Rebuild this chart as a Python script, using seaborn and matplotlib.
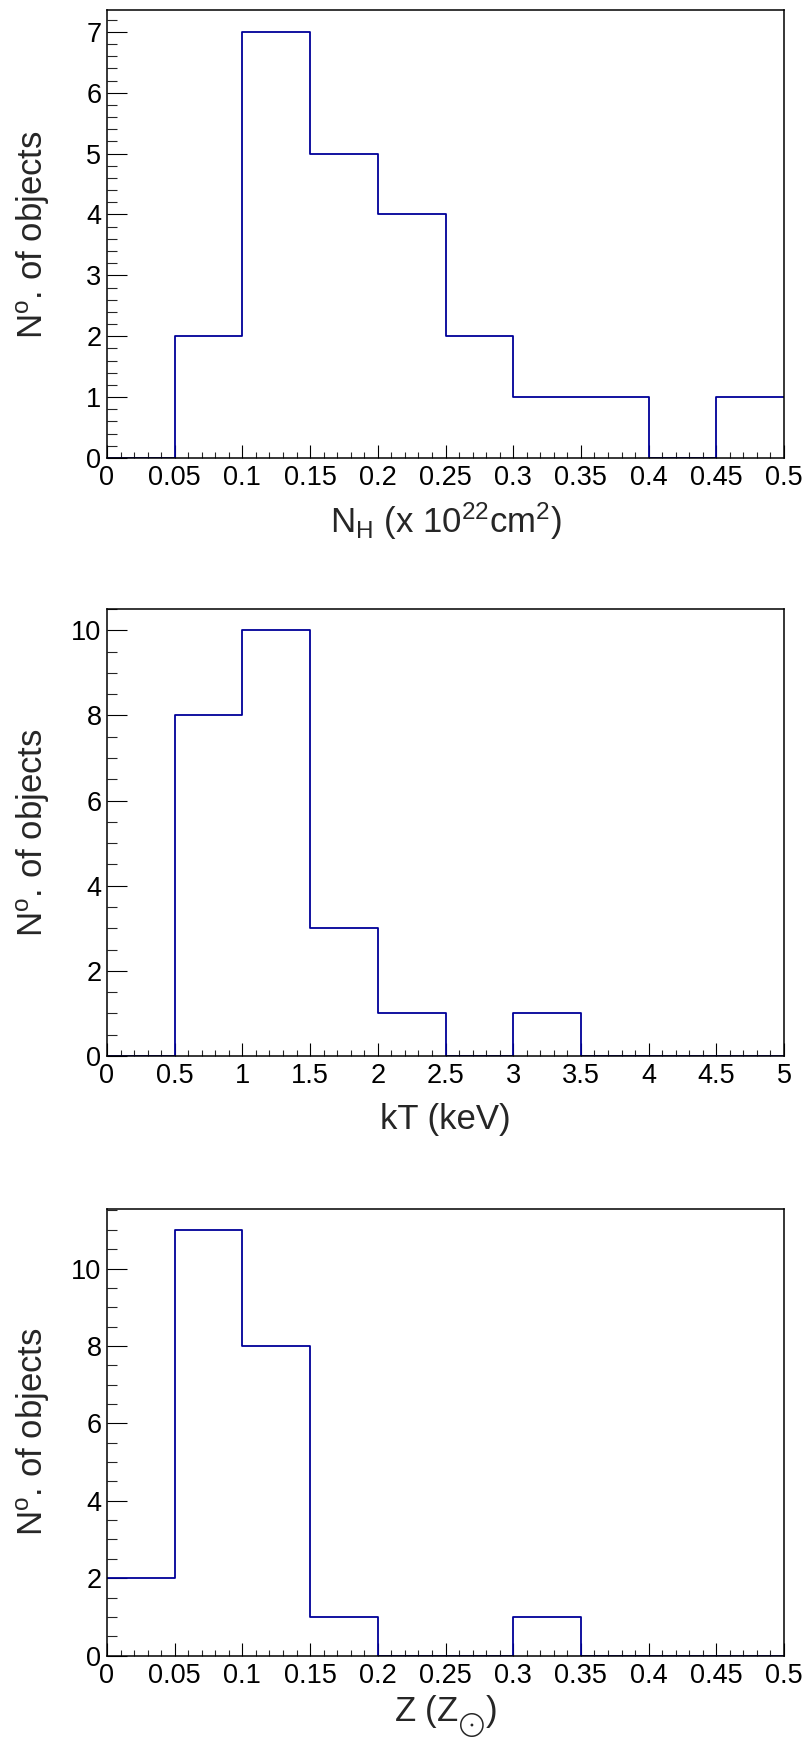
import numpy as np
import pandas as pd
import matplotlib
matplotlib.use("Agg")
import matplotlib.pyplot as plt
from matplotlib.ticker import MultipleLocator, FuncFormatter
import seaborn as sns

# ---------------- data ----------------
nh_edges = [0.0, 0.05, 0.10, 0.15, 0.20, 0.25, 0.30, 0.35, 0.40, 0.45, 0.50]
nh_counts = [0, 2, 7, 5, 4, 2, 1, 1, 0, 1]

kt_edges = [0.0, 0.5, 1.0, 1.5, 2.0, 2.5, 3.0, 3.5, 4.0, 4.5, 5.0]
kt_counts = [0, 8, 10, 3, 1, 0, 1, 0, 0, 0]

z_edges = [0.0, 0.05, 0.10, 0.15, 0.20, 0.25, 0.30, 0.35, 0.40, 0.45, 0.50]
z_counts = [2, 11, 8, 1, 0, 0, 1, 0, 0, 0]

xlabels = [r"N$_{\mathrm{H}}$ (x 10$^{22}$cm$^{2}$)", "kT (keV)", r"Z (Z$_{_{\bigodot}}$)"]
ylabel = r"N$^{\mathrm{o}}$. of objects"

# ---------------- style ----------------
sns.set_style("white")
plt.rcParams["font.family"] = ["Liberation Sans", "DejaVu Sans"]
plt.rcParams["mathtext.fontset"] = "custom"
plt.rcParams["mathtext.rm"] = "Liberation Sans"
plt.rcParams["mathtext.it"] = "Liberation Sans:italic"
plt.rcParams["mathtext.bf"] = "Liberation Sans:bold"

W, H = 809, 1742
fig = plt.figure(figsize=(W / 100, H / 100), dpi=100)
fig.patch.set_facecolor("white")

# axes boxes in pixels (left, top, right, bottom)
boxes = [(107, 10.5, 784, 458), (107, 609, 784, 1056), (107, 1208.5, 784, 1655.6)]

panels = [
    dict(edges=nh_edges, counts=nh_counts, ymax=7.35, ymaj=1, ymin=0.2,
         xmaj=0.05, xmin=0.01, xlab=xlabels[0], xlab_off=75),
    dict(edges=kt_edges, counts=kt_counts, ymax=10.5, ymaj=2, ymin=0.5,
         xmaj=0.5, xmin=0.1, xlab=xlabels[1], xlab_off=73),
    dict(edges=z_edges, counts=z_counts, ymax=11.55, ymaj=2, ymin=0.5,
         xmaj=0.05, xmin=0.01, xlab=xlabels[2], xlab_off=66),
]

line_color = "#000099"

for (l, t, r, b), p in zip(boxes, panels):
    ax = fig.add_axes([l / W, 1 - b / H, (r - l) / W, (b - t) / H])
    edges = [float(e) for e in p["edges"]]
    centers = [(edges[i] + edges[i + 1]) / 2 for i in range(len(edges) - 1)]
    df = pd.DataFrame({"value": centers, "count": p["counts"]})
    sns.histplot(data=df, x="value", weights="count", bins=edges, element="step",
                 fill=False, color=line_color, linewidth=1.3, ax=ax)
    ax.set_xlim(edges[0], edges[-1])
    ax.set_ylim(0, p["ymax"])

    for s in ax.spines.values():
        s.set_visible(True)
        s.set_color("black")
        s.set_linewidth(1.1)

    ax.xaxis.set_major_locator(MultipleLocator(p["xmaj"]))
    ax.xaxis.set_minor_locator(MultipleLocator(p["xmin"]))
    ax.yaxis.set_major_locator(MultipleLocator(p["ymaj"]))
    ax.yaxis.set_minor_locator(MultipleLocator(p["ymin"]))
    ax.xaxis.set_major_formatter(FuncFormatter(lambda v, pos: "%g" % round(v, 4)))
    ax.yaxis.set_major_formatter(FuncFormatter(lambda v, pos: "%g" % round(v, 4)))

    ax.tick_params(axis="x", which="major", direction="in", length=9.4, width=0.8,
                   labelsize=19.5, pad=5, top=False, bottom=True, colors="black")
    ax.tick_params(axis="x", which="minor", direction="in", length=4.6, width=0.8,
                   top=False, bottom=True)
    ax.tick_params(axis="y", which="major", direction="in", length=14.4, width=0.8,
                   labelsize=19.5, pad=4, right=False, left=True, colors="black")
    ax.tick_params(axis="y", which="minor", direction="in", length=7.2, width=0.8,
                   right=False, left=True)

    ax.set_xlabel(p["xlab"], fontsize=25, va="baseline")
    ax.xaxis.set_label_coords(0.5, -p["xlab_off"] / (b - t))
    ax.set_ylabel(ylabel, fontsize=25, va="baseline")
    ax.yaxis.set_label_coords(-(107 - 43) / (r - l), 0.5)
    ax.grid(False)

fig.savefig("out.png", dpi=100, facecolor="white")
